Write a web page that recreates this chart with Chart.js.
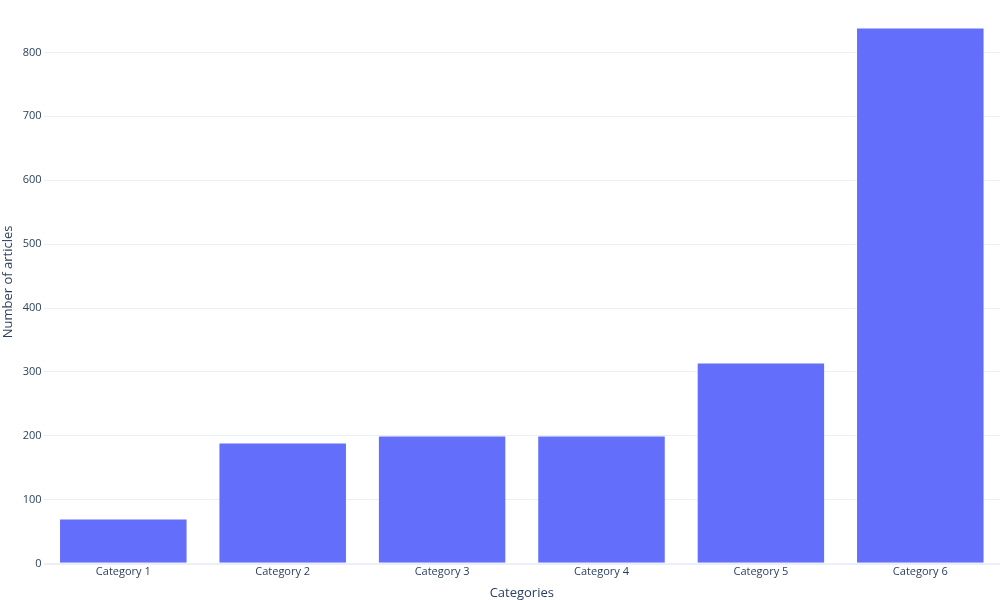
<!DOCTYPE html>
<html>
<head>
<meta charset="utf-8">
<script src="https://cdn.jsdelivr.net/npm/chart.js@4"></script>
<style>
  html, body { margin: 0; padding: 0; background: #ffffff; }
  #wrap { width: 1000px; height: 600px; position: relative; }
</style>
</head>
<body>
<div id="wrap"><canvas id="c" width="1000" height="600"></canvas></div>
<script>
const categories = ["Category 1", "Category 2", "Category 3", "Category 4", "Category 5", "Category 6"];
const articleCounts = [70, 189, 200, 200, 314, 838];
const yTickStep = 100;
const yMax = 882;
const xTitle = "Categories";
const yTitle = "Number of articles";

const FONT = "'Open Sans', verdana, arial, sans-serif";
const TEXT = "#2a3f5f";
const GRID = "#ebf0f8";

new Chart(document.getElementById("c"), {
  type: "bar",
  data: {
    labels: categories,
    datasets: [{
      data: articleCounts,
      backgroundColor: "#636efa",
      borderColor: "rgba(255,255,255,0.6)",
      borderWidth: 0.5,
      barPercentage: 0.8,
      categoryPercentage: 1.0
    }]
  },
  options: {
    responsive: false,
    animation: false,
    devicePixelRatio: 1,
    layout: { padding: { left: 0, right: 0, top: 0, bottom: 0 } },
    plugins: {
      legend: { display: false },
      tooltip: { enabled: false }
    },
    scales: {
      x: {
        grid: { display: false, drawTicks: false },
        border: { display: false },
        ticks: {
          color: TEXT,
          font: { family: FONT, size: 11 },
          padding: 2,
          maxRotation: 0
        },
        title: {
          display: true,
          text: xTitle,
          color: TEXT,
          font: { family: FONT, size: 13 },
          padding: { top: 0, bottom: -1 }
        },
        afterFit: (s) => { s.height = 36.3; s.paddingLeft = 0; s.paddingRight = 0; }
      },
      y: {
        min: 0,
        max: yMax,
        grid: {
          color: GRID,
          lineWidth: (ctx) => (ctx.tick && ctx.tick.value === 0 ? 2 : 1),
          drawTicks: false
        },
        border: { display: false },
        ticks: {
          stepSize: yTickStep,
          includeBounds: false,
          color: TEXT,
          font: { family: FONT, size: 11 },
          padding: 2
        },
        title: {
          display: true,
          text: yTitle,
          color: TEXT,
          font: { family: FONT, size: 13 },
          padding: { top: 0, bottom: 0 }
        },
        afterFit: (s) => { s.width = 43.6; s.paddingTop = 0; s.paddingBottom = 0; }
      }
    }
  }
});
</script>
</body>
</html>
